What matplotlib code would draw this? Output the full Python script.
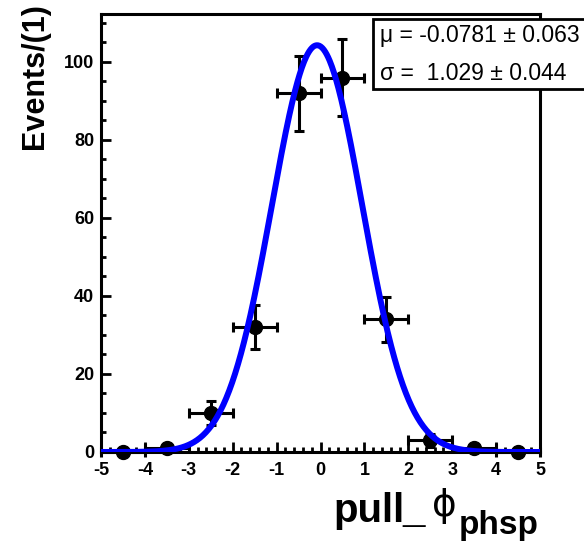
import numpy as np
import matplotlib
matplotlib.use("Agg")
import matplotlib.pyplot as plt
from matplotlib.patches import Rectangle
from matplotlib.ticker import MultipleLocator

# ---- data ----
bin_centers = [-4.5, -3.5, -2.5, -1.5, -0.5, 0.5, 1.5, 2.5, 3.5, 4.5]
counts = [0, 1, 10, 32, 92, 96, 34, 3, 1, 0]
bin_width = 1.0
fit_mu = -0.0781
fit_mu_err = 0.063
fit_sigma = 1.029
fit_sigma_err = 0.044
x_ticks = [-5, -4, -3, -2, -1, 0, 1, 2, 3, 4, 5]
y_ticks = [0, 20, 40, 60, 80, 100]

plt.rcParams['font.family'] = ['Liberation Sans', 'DejaVu Sans']
plt.rcParams['axes.unicode_minus'] = False

W, H = 584, 543
fig = plt.figure(figsize=(W / 100, H / 100), dpi=100)
ax = fig.add_axes([101 / W, 1 - 452 / H, 439 / W, 438 / H])

counts_arr = np.array(counts, dtype=float)
yerr = np.sqrt(counts_arr)
ax.errorbar(bin_centers, counts, xerr=bin_width / 2, yerr=yerr, fmt='o',
            color='black', ms=10, elinewidth=2.2, capsize=3.5, capthick=2.2,
            zorder=3, clip_on=False)

n_events = counts_arr.sum()
xs = np.linspace(-5, 5, 600)
amp = n_events * bin_width / (np.sqrt(2 * np.pi) * fit_sigma)
ys = amp * np.exp(-0.5 * ((xs - fit_mu) / fit_sigma) ** 2)
ax.plot(xs, ys, color='#0000ff', lw=4.3, zorder=4, solid_capstyle='butt')

ax.set_xlim(-5, 5)
ax.set_ylim(0, 112.3)
ax.set_xticks(x_ticks)
ax.set_xticklabels([str(v) for v in x_ticks])
ax.set_yticks(y_ticks)
ax.set_yticklabels([str(v) for v in y_ticks])
ax.xaxis.set_minor_locator(MultipleLocator(0.2))
ax.yaxis.set_minor_locator(MultipleLocator(5))
ax.tick_params(which='both', direction='in', top=False, right=False, width=2.0)
ax.tick_params(which='major', length=7.5)
ax.tick_params(which='minor', length=3.8)
ax.tick_params(axis='x', pad=7)
ax.tick_params(axis='y', pad=5)
for lab in ax.get_xticklabels() + ax.get_yticklabels():
    lab.set_fontweight('bold')
    lab.set_fontsize(13)
for sp in ax.spines.values():
    sp.set_linewidth(2.2)

fig.text(35 / W, 1 - 3 / H, 'Events/(1)', rotation=90, ha='center', va='top',
         fontsize=22, fontweight='bold')

# x-axis title: pull_ϕ with subscript phsp
fig.text(333 / W, 1 - 522 / H, 'pull', ha='left', va='baseline',
         fontsize=29, fontweight='bold')
fig.text(402 / W, 1 - 522 / H, '_', ha='left', va='baseline',
         fontsize=29, fontweight='bold', transform=fig.transFigure)
fig.text(432 / W, 1 - 516 / H, '\u03d5', ha='left', va='baseline',
         fontsize=27, family=['DejaVu Sans'])
fig.text(459 / W, 1 - 534 / H, 'phsp', ha='left', va='baseline',
         fontsize=24, fontweight='bold')

# stat box
box = Rectangle((373 / W, 1 - 89 / H), (W - 373 + 20) / W, 70 / H,
                transform=fig.transFigure, facecolor='white', edgecolor='black',
                lw=2.0, zorder=10, clip_on=False)
fig.add_artist(box)
fig.text(380 / W, 1 - 42 / H, f'\u03bc = {fit_mu} \u00b1 {fit_mu_err}',
         ha='left', va='baseline', fontsize=16.5, zorder=11)
fig.text(380 / W, 1 - 80 / H, f'\u03c3 =  {fit_sigma} \u00b1 {fit_sigma_err}',
         ha='left', va='baseline', fontsize=16.5, zorder=11)

fig.savefig('out.png', dpi=100)
